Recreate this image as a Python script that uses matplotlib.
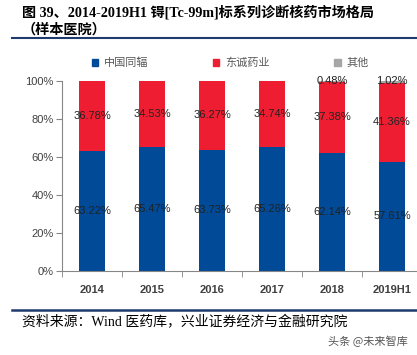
import matplotlib
matplotlib.use("Agg")
import matplotlib.pyplot as plt
from matplotlib.patches import Patch
import numpy as np

plt.rcParams['font.family'] = ['Liberation Sans', 'Noto Sans CJK SC', 'DejaVu Sans']

# 数据
years = ["2014", "2015", "2016", "2017", "2018", "2019H1"]
tongfu = [63.22, 65.47, 63.73, 65.26, 62.14, 57.61]
dongcheng = [36.78, 34.53, 36.27, 34.74, 37.38, 41.36]
other = [0, 0, 0, 0, 0.48, 1.02]
series_names = ["中国同辐", "东诚药业", "其他"]

BLUE = "#004A97"
RED = "#EE1D32"
GRAY = "#A6A6A6"
W, H = 417, 355

fig = plt.figure(figsize=(W / 100, H / 100), dpi=100)
ax = fig.add_axes([62 / W, 1 - 271 / H, 360 / W, 190 / H])

x = np.arange(len(years))
bw = 0.42
b1 = np.array(tongfu)
b2 = np.array(dongcheng)
b3 = np.array(other)
ax.bar(x, b1, bw, color=BLUE)
ax.bar(x, b2, bw, bottom=b1, color=RED)
ax.bar(x, b3, bw, bottom=b1 + b2, color=GRAY)

for i in range(len(years)):
    ax.text(x[i], b1[i] / 2, f"{tongfu[i]:.2f}%", ha="center", va="center",
            fontsize=8, color="#222222")
    ax.text(x[i], b1[i] + b2[i] / 2, f"{dongcheng[i]:.2f}%", ha="center", va="center",
            fontsize=8, color="#222222")
    if other[i] > 0:
        ax.text(x[i], 100, f"{other[i]:.2f}%", ha="center", va="center",
                fontsize=8, color="#222222")

ax.set_xlim(-0.5, len(years) - 0.5)
ax.set_ylim(0, 100)
ax.set_yticks(np.arange(0, 101, 20))
ax.set_yticklabels([f"{v}%" for v in range(0, 101, 20)], fontsize=8, color="#404040")
ax.set_xticks(x)
ax.set_xticklabels(years, fontsize=8, color="#404040", fontweight="bold")
ax.set_xticks(np.arange(-0.5, len(years), 1), minor=True)
ax.tick_params(axis="x", which="major", length=0, pad=10)
ax.tick_params(axis="x", which="minor", length=4, color="#868686", direction="out")
ax.tick_params(axis="y", length=4, color="#868686", pad=2)
for s in ["top", "right"]:
    ax.spines[s].set_visible(False)
ax.spines["left"].set_color("#868686")
ax.spines["bottom"].set_color("#868686")

handles = [Patch(color=c) for c in [BLUE, RED, GRAY]]
leg = fig.legend(handles, series_names, ncol=3, loc="center",
                 bbox_to_anchor=(230 / W, 1 - 63 / H), frameon=False,
                 handlelength=0.6, handleheight=0.6, handletextpad=0.5,
                 columnspacing=5.8, prop={"family": "Noto Sans CJK SC", "size": 8})
for t in leg.get_texts():
    t.set_color("#595959")

title_font = ["Liberation Serif", "Noto Sans CJK SC"]
fig.text(22 / W, 1 - 12 / H, "图 39、2014-2019H1 锝[Tc-99m]标系列诊断核药市场格局",
         fontsize=10.2, fontweight="bold", family=title_font, va="center")
fig.text(22 / W, 1 - 30 / H, "（样本医院）",
         fontsize=10.2, fontweight="bold", family=title_font, va="center")
fig.add_artist(plt.Line2D([12 / W, 1], [1 - 38 / H] * 2, color="#1F3A6E", lw=1.5))
fig.add_artist(plt.Line2D([12 / W, 1], [1 - 310 / H] * 2, color="#1F3A6E", lw=1.8))
fig.text(22 / W, 1 - 322 / H, "资料来源：Wind 医药库，兴业证券经济与金融研究院",
         fontsize=10, family=title_font, va="center")
fig.text(408 / W, 1 - 341 / H, "头条 @未来智库", fontsize=8, color="#555555",
         family=["Noto Sans CJK SC"], ha="right", va="center")

fig.savefig("out.png", dpi=100)
